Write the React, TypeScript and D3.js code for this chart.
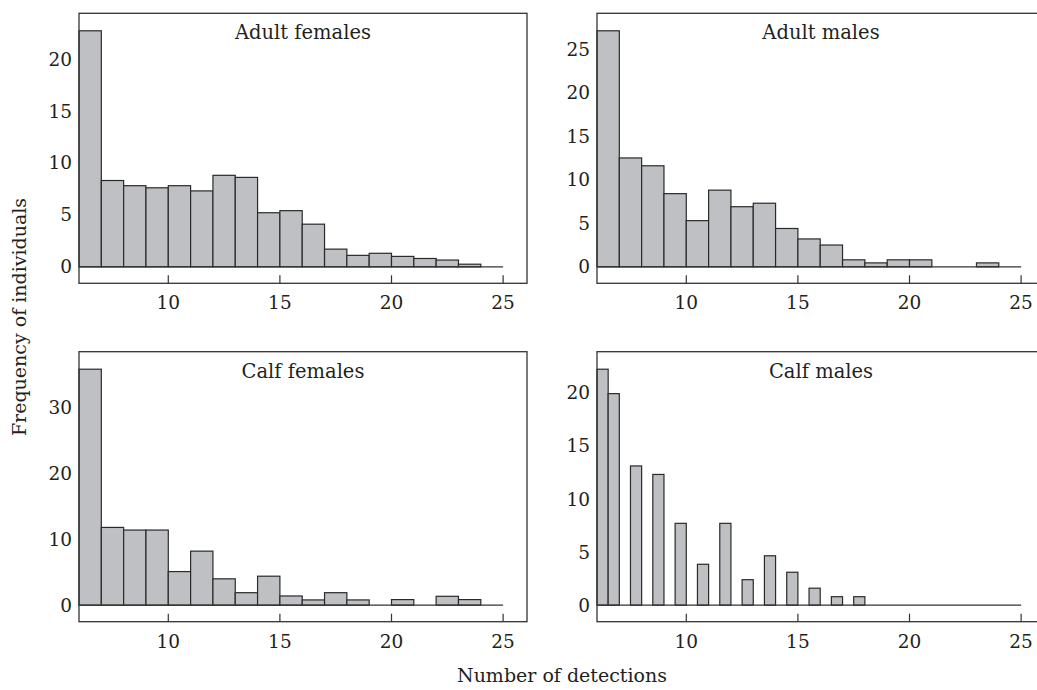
import React from 'react';
import * as d3 from 'd3';

// bin starts (number of detections), one unit wide
const binStarts = d3.range(6, 25);

const adultFemales = [22.7, 8.3, 7.8, 7.6, 7.8, 7.3, 8.8, 8.6, 5.2, 5.4, 4.1, 1.7, 1.1, 1.3, 1.0, 0.8, 0.65, 0.25, 0];
const adultMales = [27.1, 12.5, 11.6, 8.4, 5.3, 8.8, 6.9, 7.3, 4.4, 3.2, 2.5, 0.8, 0.45, 0.8, 0.8, 0, 0, 0.45, 0];
const calfFemales = [35.8, 11.8, 11.4, 11.4, 5.1, 8.2, 4.0, 1.9, 4.4, 1.4, 0.8, 1.9, 0.8, 0, 0.85, 0, 1.35, 0.85, 0];

// calf males are drawn as half-width bars
const calfMaleStarts = [6, 6.5, 7.5, 8.5, 9.5, 10.5, 11.5, 12.5, 13.5, 14.5, 15.5, 16.5, 17.5];
const calfMaleEnds = [6.5, 7, 8, 9, 10, 11, 12, 13, 14, 15, 16, 17, 18];
const calfMales = [22.2, 19.9, 13.1, 12.3, 7.7, 3.85, 7.7, 2.4, 4.65, 3.1, 1.6, 0.8, 0.8];

const xTicks = [10, 15, 20, 25];
const yTicksAF = [0, 5, 10, 15, 20];
const yTicksAM = [0, 5, 10, 15, 20, 25];
const yTicksCF = [0, 10, 20, 30];
const yTicksCM = [0, 5, 10, 15, 20];

const FONT = '"DejaVu Serif", "Liberation Serif", serif';
const INK = '#231f20';
const BAR = '#bec0c3';

type Bar = { x0: number; x1: number; v: number };

function Panel({ left, top, title, bars, yTicks }: { left: number; top: number; title: string; bars: Bar[]; yTicks: number[] }) {
  const w = 448;
  const h = 270;
  const x = d3.scaleLinear().domain([6, 26.07]).range([left, left + w]);
  const maxV = d3.max(bars, d => d.v) as number;
  const y = d3.scaleLinear().domain([0, maxV]).range([top + h - 16.5, top + 17.5]);

  return (
    <g>
      {bars.filter(b => b.v > 0).map((b, i) => (
        <rect key={i} x={x(b.x0)} y={y(b.v)} width={x(b.x1) - x(b.x0)} height={y(0) - y(b.v)}
          fill={BAR} stroke="#2a2a2a" strokeWidth={1.2} />
      ))}
      <line x1={x(6)} x2={x(25)} y1={y(0)} y2={y(0)} stroke="#333" strokeWidth={1.2} />
      <rect x={left} y={top} width={w} height={h} fill="none" stroke="#333" strokeWidth={1.3} />
      {xTicks.map(t => (
        <g key={t}>
          <line x1={x(t)} x2={x(t)} y1={top + h} y2={top + h - 8} stroke="#333" strokeWidth={1.2} />
          <text x={x(t)} y={top + h + 26} textAnchor="middle" fontFamily={FONT} fontSize={18.5} fill={INK}>{t}</text>
        </g>
      ))}
      {yTicks.map(t => (
        <text key={t} x={left - 7} y={y(t)} dy="0.36em" textAnchor="end" fontFamily={FONT} fontSize={18.5} fill={INK}>{t}</text>
      ))}
      <text x={left + w / 2} y={top + 26} textAnchor="middle" fontFamily={FONT} fontSize={19.5} fill={INK}>{title}</text>
    </g>
  );
}

const toBars = (vals: number[]): Bar[] => vals.map((v, i) => ({ x0: binStarts[i], x1: binStarts[i] + 1, v }));

export default function App() {
  const calfMaleBars = calfMales.map((v, i) => ({ x0: calfMaleStarts[i], x1: calfMaleEnds[i], v }));
  return (
    <div style={{ position: 'absolute', left: 0, top: 0 }}>
      <svg width={1037} height={690} style={{ display: 'block', background: '#fff' }}>
        <Panel left={79} top={13.3} title="Adult females" bars={toBars(adultFemales)} yTicks={yTicksAF} />
        <Panel left={597} top={13.3} title="Adult males" bars={toBars(adultMales)} yTicks={yTicksAM} />
        <Panel left={79} top={351.7} title="Calf females" bars={toBars(calfFemales)} yTicks={yTicksCF} />
        <Panel left={597} top={351.7} title="Calf males" bars={calfMaleBars} yTicks={yTicksCM} />
        <text x={562} y={682} textAnchor="middle" fontFamily={FONT} fontSize={19} fill={INK}>Number of detections</text>
        <text transform="translate(26,317) rotate(-90)" textAnchor="middle" fontFamily={FONT} fontSize={19} fill={INK}>Frequency of individuals</text>
      </svg>
    </div>
  );
}
